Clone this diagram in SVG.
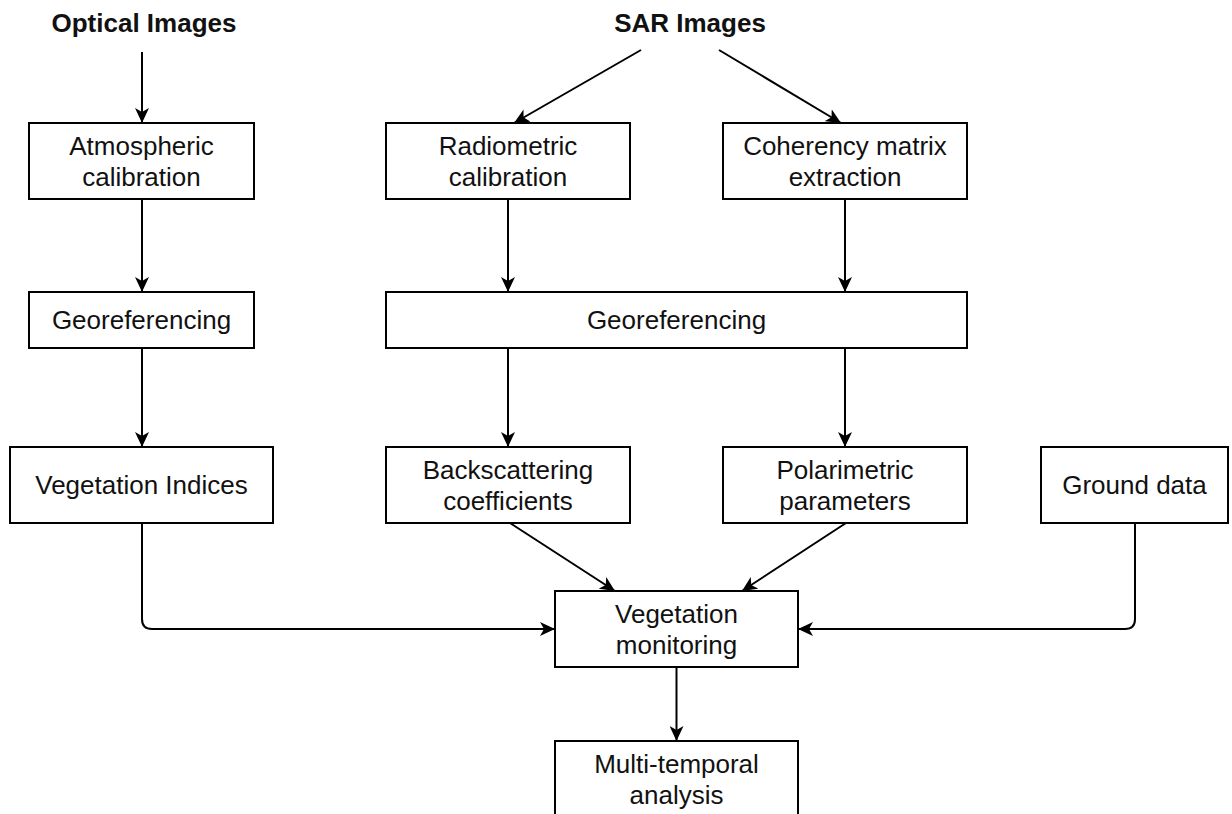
<svg xmlns="http://www.w3.org/2000/svg" width="1232" height="814" viewBox="0 0 1232 814">
  <style>
    .box { fill: #ffffff; stroke: #000000; stroke-width: 2; }
    .lbl { font-family: "Liberation Sans", Arial, Helvetica, sans-serif; font-size: 26px; fill: #111111; text-anchor: middle; }
    .title { font-weight: bold; }
    .edge { fill: none; stroke: #000000; stroke-width: 2; marker-end: url(#arrow); }
  </style>
  <defs>
    <marker id="arrow" markerUnits="userSpaceOnUse" markerWidth="16" markerHeight="14" refX="15" refY="7" orient="auto">
      <path d="M0,0 L15,7 L0,14 L4,7 Z" fill="#000000"/>
    </marker>
  </defs>
  <rect width="1232" height="814" fill="#ffffff"/>

  <!-- connectors -->
  <g id="connectors">
    <path class="edge" d="M142,52 L142,123"/>
    <path class="edge" d="M641,50 L514,123"/>
    <path class="edge" d="M719,50 L841,123"/>
    <path class="edge" d="M142,199 L142,292"/>
    <path class="edge" d="M508,199 L508,292"/>
    <path class="edge" d="M845,199 L845,292"/>
    <path class="edge" d="M142,348 L142,447"/>
    <path class="edge" d="M508,348 L508,447"/>
    <path class="edge" d="M845,348 L845,447"/>
    <path class="edge" d="M510,523 L615,591"/>
    <path class="edge" d="M846,523 L742,591"/>
    <path class="edge" d="M142,523 L142,619 Q142,629 152,629 L555,629"/>
    <path class="edge" d="M1135,523 L1135,619 Q1135,629 1125,629 L798,629"/>
    <path class="edge" d="M676.5,667 L676.5,741"/>
  </g>

  <!-- source headings -->
  <g id="optical-images">
    <text class="lbl title" x="144" y="32">Optical Images</text>
  </g>
  <g id="sar-images">
    <text class="lbl title" x="690" y="32">SAR Images</text>
  </g>

  <!-- optical branch -->
  <g id="atmospheric-calibration">
    <rect class="box" x="29" y="123" width="225" height="76"/>
    <text class="lbl" x="141.5" y="154.5">Atmospheric</text>
    <text class="lbl" x="141.5" y="185.5">calibration</text>
  </g>
  <g id="georeferencing-optical">
    <rect class="box" x="29" y="292" width="225" height="56"/>
    <text class="lbl" x="141.5" y="329">Georeferencing</text>
  </g>
  <g id="vegetation-indices">
    <rect class="box" x="10" y="447" width="263" height="76"/>
    <text class="lbl" x="141.5" y="494">Vegetation Indices</text>
  </g>

  <!-- SAR branch -->
  <g id="radiometric-calibration">
    <rect class="box" x="386" y="123" width="244" height="76"/>
    <text class="lbl" x="508" y="154.5">Radiometric</text>
    <text class="lbl" x="508" y="185.5">calibration</text>
  </g>
  <g id="coherency-matrix-extraction">
    <rect class="box" x="723" y="123" width="244" height="76"/>
    <text class="lbl" x="845" y="154.5">Coherency matrix</text>
    <text class="lbl" x="845" y="185.5">extraction</text>
  </g>
  <g id="georeferencing-sar">
    <rect class="box" x="386" y="292" width="581" height="56"/>
    <text class="lbl" x="676.5" y="329">Georeferencing</text>
  </g>
  <g id="backscattering-coefficients">
    <rect class="box" x="386" y="447" width="244" height="76"/>
    <text class="lbl" x="508" y="478.5">Backscattering</text>
    <text class="lbl" x="508" y="509.5">coefficients</text>
  </g>
  <g id="polarimetric-parameters">
    <rect class="box" x="723" y="447" width="244" height="76"/>
    <text class="lbl" x="845" y="478.5">Polarimetric</text>
    <text class="lbl" x="845" y="509.5">parameters</text>
  </g>

  <!-- field data -->
  <g id="ground-data">
    <rect class="box" x="1041" y="447" width="187" height="76"/>
    <text class="lbl" x="1134.5" y="494">Ground data</text>
  </g>

  <!-- outputs -->
  <g id="vegetation-monitoring">
    <rect class="box" x="555" y="591" width="243" height="76"/>
    <text class="lbl" x="676.5" y="622.5">Vegetation</text>
    <text class="lbl" x="676.5" y="653.5">monitoring</text>
  </g>
  <g id="multi-temporal-analysis">
    <rect class="box" x="555" y="741" width="243" height="76"/>
    <text class="lbl" x="676.5" y="772.5">Multi-temporal</text>
    <text class="lbl" x="676.5" y="803.5">analysis</text>
  </g>
</svg>
